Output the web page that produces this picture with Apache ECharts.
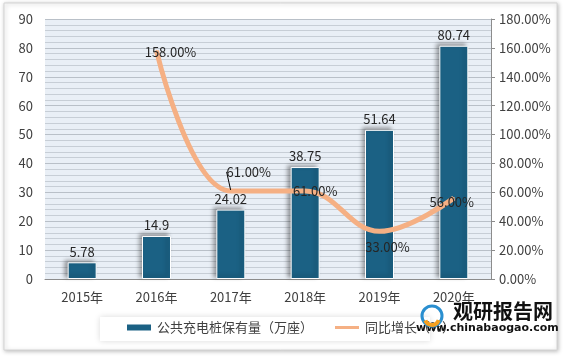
<!DOCTYPE html>
<html><head><meta charset="utf-8">
<script src="https://cdn.jsdelivr.net/npm/echarts@6/dist/echarts.min.js"></script>
<style>html,body{margin:0;padding:0;background:#fff}#c{width:570px;height:356px}</style>
</head><body><div id="c"></div>
<script>
var categories = ['2015年','2016年','2017年','2018年','2019年','2020年'];
var stockValues = [5.78, 14.9, 24.02, 38.75, 51.64, 80.74];
var growthValues = [null, 158, 61, 61, 33, 56];
var barName = '公共充电桩保有量（万座）';
var lineName = '同比增长（%）';

var lineData = growthValues.map(function(v, i){
  return i === 2 ? {value: v, labelLine: {show: true}} : v;
});

var chart = echarts.init(document.getElementById('c'));
var font = '"Microsoft YaHei","Noto Sans CJK SC","Liberation Sans",sans-serif';
chart.setOption({
  backgroundColor: '#fff',
  animation: false,
  textStyle: {fontFamily: font},
  graphic: [
    {type:'rect', shape:{x:4,y:3,width:553,height:347}, style:{fill:'#fff', stroke:'#d4d4d4', lineWidth:1, shadowBlur:4, shadowColor:'rgba(0,0,0,0.25)', shadowOffsetX:1, shadowOffsetY:1}, z:-10},
    {type:'rect', shape:{x:100,y:317,width:330,height:24}, style:{fill:'#fff', shadowBlur:6, shadowColor:'rgba(0,0,0,0.15)'}, z:-5},
    {type:'text', left:453, top:301, style:{text:'观研报告网', fill:'#111', font:'bold 20px "Noto Sans CJK SC",sans-serif'}, z:100},
    {type:'text', left:416, top:323, style:{text:'www.chinabaogao.com', fill:'#111', font:'bold 11px "DejaVu Sans",sans-serif'}, z:100},
    {type:'circle', shape:{cx:432,cy:316,r:10}, style:{fill:'none', stroke:'#2a8fd0', lineWidth:3}, z:100},
    {type:'arc', shape:{cx:432,cy:318,r:7,startAngle:0.3,endAngle:2.8}, style:{fill:'none', stroke:'#f5a020', lineWidth:4}, z:101}
  ],
  grid: {left:45, right:79, top:19, bottom:77, show:true, backgroundColor:'#e9eff6', borderWidth:0},
  legend: {
    bottom: 17, left: 120, itemGap: 22, itemWidth: 26, itemHeight: 8,
    textStyle: {fontSize: 13, color:'#404040'},
    data: [{name: barName, icon:'rect'},
           {name: lineName, icon:'path://M0,0L0.01,0M0,2.5L24,2.5L24,5.5L0,5.5ZM0,8L0.01,8'}]
  },
  xAxis: {
    type: 'category', data: categories,
    axisLine: {lineStyle: {color:'#8c8c8c'}},
    axisTick: {show:false},
    axisLabel: {fontSize: 13, color:'#404040', margin: 12}
  },
  yAxis: [
    {type:'value', min:0, max:90, interval:10,
     axisLine:{show:false}, axisTick:{show:false},
     axisLabel:{fontSize:13, color:'#404040', margin:12},
     splitLine:{show:true, lineStyle:{color:'#b9c0c8', width:1}},
     minorTick:{show:false, splitNumber:5},
     minorSplitLine:{show:true, lineStyle:{color:'#c7ced6', width:1}}},
    {type:'value', min:0, max:180, interval:20, position:'right',
     axisLine:{show:true, lineStyle:{color:'#8c8c8c'}},
     axisTick:{show:true, length:4, lineStyle:{color:'#8c8c8c'}},
     axisLabel:{fontSize:13, color:'#404040', margin:8, formatter: function(v){return v.toFixed(2)+'%';}},
     splitLine:{show:false}}
  ],
  series: [
    {name: barName, type:'bar', data: stockValues, barWidth: 29,
     itemStyle:{color:'#1b6184', borderColor:'#ffffff', borderWidth:1, shadowColor:'rgba(0,0,0,0.35)', shadowBlur:4, shadowOffsetX:-3, shadowOffsetY:-2},
     label:{show:true, position:'top', fontSize:13, color:'#262626', distance:4}},
    {name: lineName, type:'line', yAxisIndex:1, data: lineData, smooth:0.4,
     showSymbol:true, symbol:'circle', symbolSize:2,
     lineStyle:{color:'#f5b084', width:5},
     itemStyle:{color:'#f5b084'},
     label:{show:true, position:'inside', fontSize:13, color:'#262626', formatter: function(p){return p.value.toFixed(2)+'%';}},
     labelLine:{show:false, lineStyle:{color:'#000', width:1}},
     labelLayout: function(p){
       var i = p.dataIndex;
       if (i===1) return {dx: 14, dy: 1};
       if (i===2) return {dx: 18, dy: -19};
       if (i===3) return {dx: 10, dy: 0};
       if (i===4) return {dx: 8, dy: 16};
       if (i===5) return {dx: -2, dy: 4};
       return {};
     }}
  ]
});
</script></body></html>
